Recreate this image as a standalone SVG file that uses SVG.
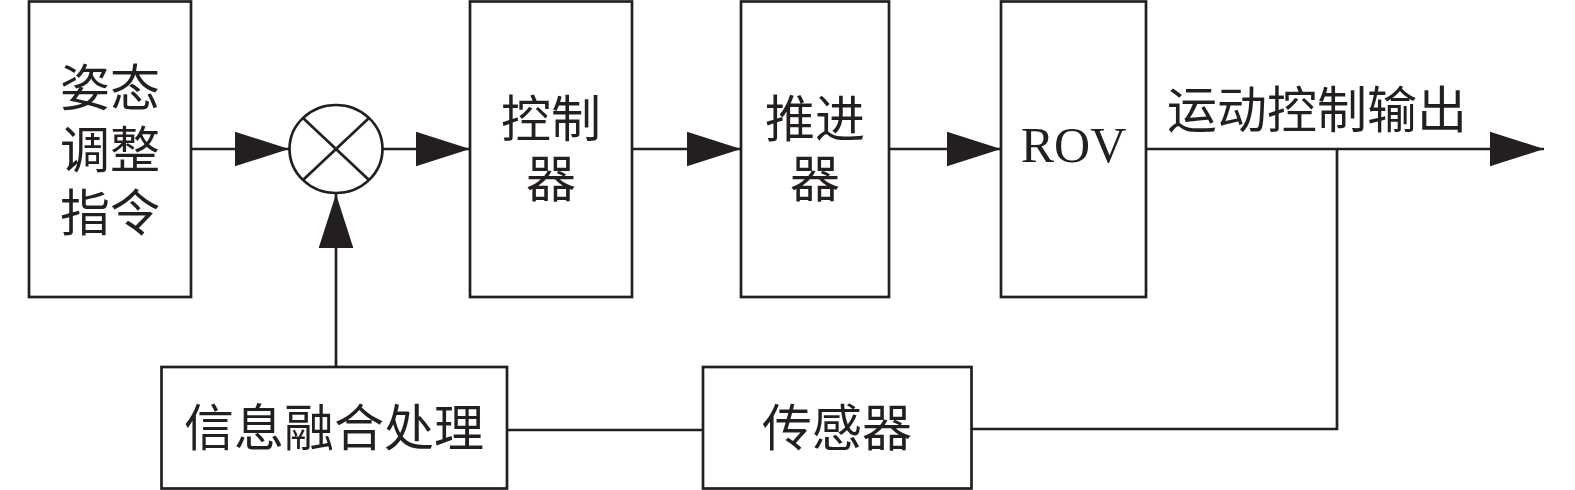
<svg xmlns="http://www.w3.org/2000/svg" width="1575" height="490" viewBox="0 0 1575 490">
<defs>
<style>
.box{fill:#fff;stroke:#231f20;stroke-width:2.7}
.ln{fill:none;stroke:#231f20;stroke-width:2.7}
.t{font-family:"Liberation Serif","Noto Sans CJK SC",serif;font-size:50px;fill:#231f20;text-anchor:middle}
</style>
<marker id="ah" markerUnits="userSpaceOnUse" markerWidth="54" markerHeight="36" viewBox="0 0 53 34" refX="53" refY="17" orient="auto">
<path d="M0,0 L53,17 L0,34 z" fill="#231f20"/>
</marker>
</defs>
<rect width="1575" height="490" fill="#fff"/>
<g id="connectors">
<line class="ln" x1="191" y1="149" x2="289" y2="149" marker-end="url(#ah)"/>
<line class="ln" x1="383" y1="149" x2="470" y2="149" marker-end="url(#ah)"/>
<line class="ln" x1="632" y1="149" x2="741" y2="149" marker-end="url(#ah)"/>
<line class="ln" x1="889" y1="149" x2="1001" y2="149" marker-end="url(#ah)"/>
<line class="ln" x1="1146" y1="149" x2="1544" y2="149" marker-end="url(#ah)"/>
<line class="ln" x1="336" y1="367" x2="336" y2="194" marker-end="url(#ah)"/>
<polyline class="ln" points="1337,149 1337,429 971,429"/>
<line class="ln" x1="507" y1="430" x2="703" y2="430"/>
</g>
<g id="cmd">
<rect class="box" x="29" y="1.5" width="162" height="295.5"/>
<text class="t" x="110" y="106">姿态</text>
<text class="t" x="110" y="168">调整</text>
<text class="t" x="110" y="231">指令</text>
</g>
<g id="sum">
<ellipse class="box" cx="336" cy="149" rx="46.5" ry="44"/>
<line class="ln" x1="303" y1="118" x2="369" y2="180"/>
<line class="ln" x1="369" y1="118" x2="303" y2="180"/>
</g>
<g id="controller">
<rect class="box" x="470" y="1.5" width="162" height="295.5"/>
<text class="t" x="551" y="137">控制</text>
<text class="t" x="551" y="197">器</text>
</g>
<g id="thruster">
<rect class="box" x="741" y="1.5" width="148" height="295.5"/>
<text class="t" x="815" y="137">推进</text>
<text class="t" x="815" y="197">器</text>
</g>
<g id="rov">
<rect class="box" x="1001" y="1.5" width="145" height="295.5"/>
<text class="t" x="1073.5" y="162">ROV</text>
</g>
<g id="output-label">
<text class="t" x="1317" y="128">运动控制输出</text>
</g>
<g id="fusion">
<rect class="box" x="161.5" y="367" width="345.5" height="121.5"/>
<text class="t" x="334" y="446">信息融合处理</text>
</g>
<g id="sensor">
<rect class="box" x="703" y="367" width="268.5" height="121.5"/>
<text class="t" x="837" y="446">传感器</text>
</g>
</svg>
